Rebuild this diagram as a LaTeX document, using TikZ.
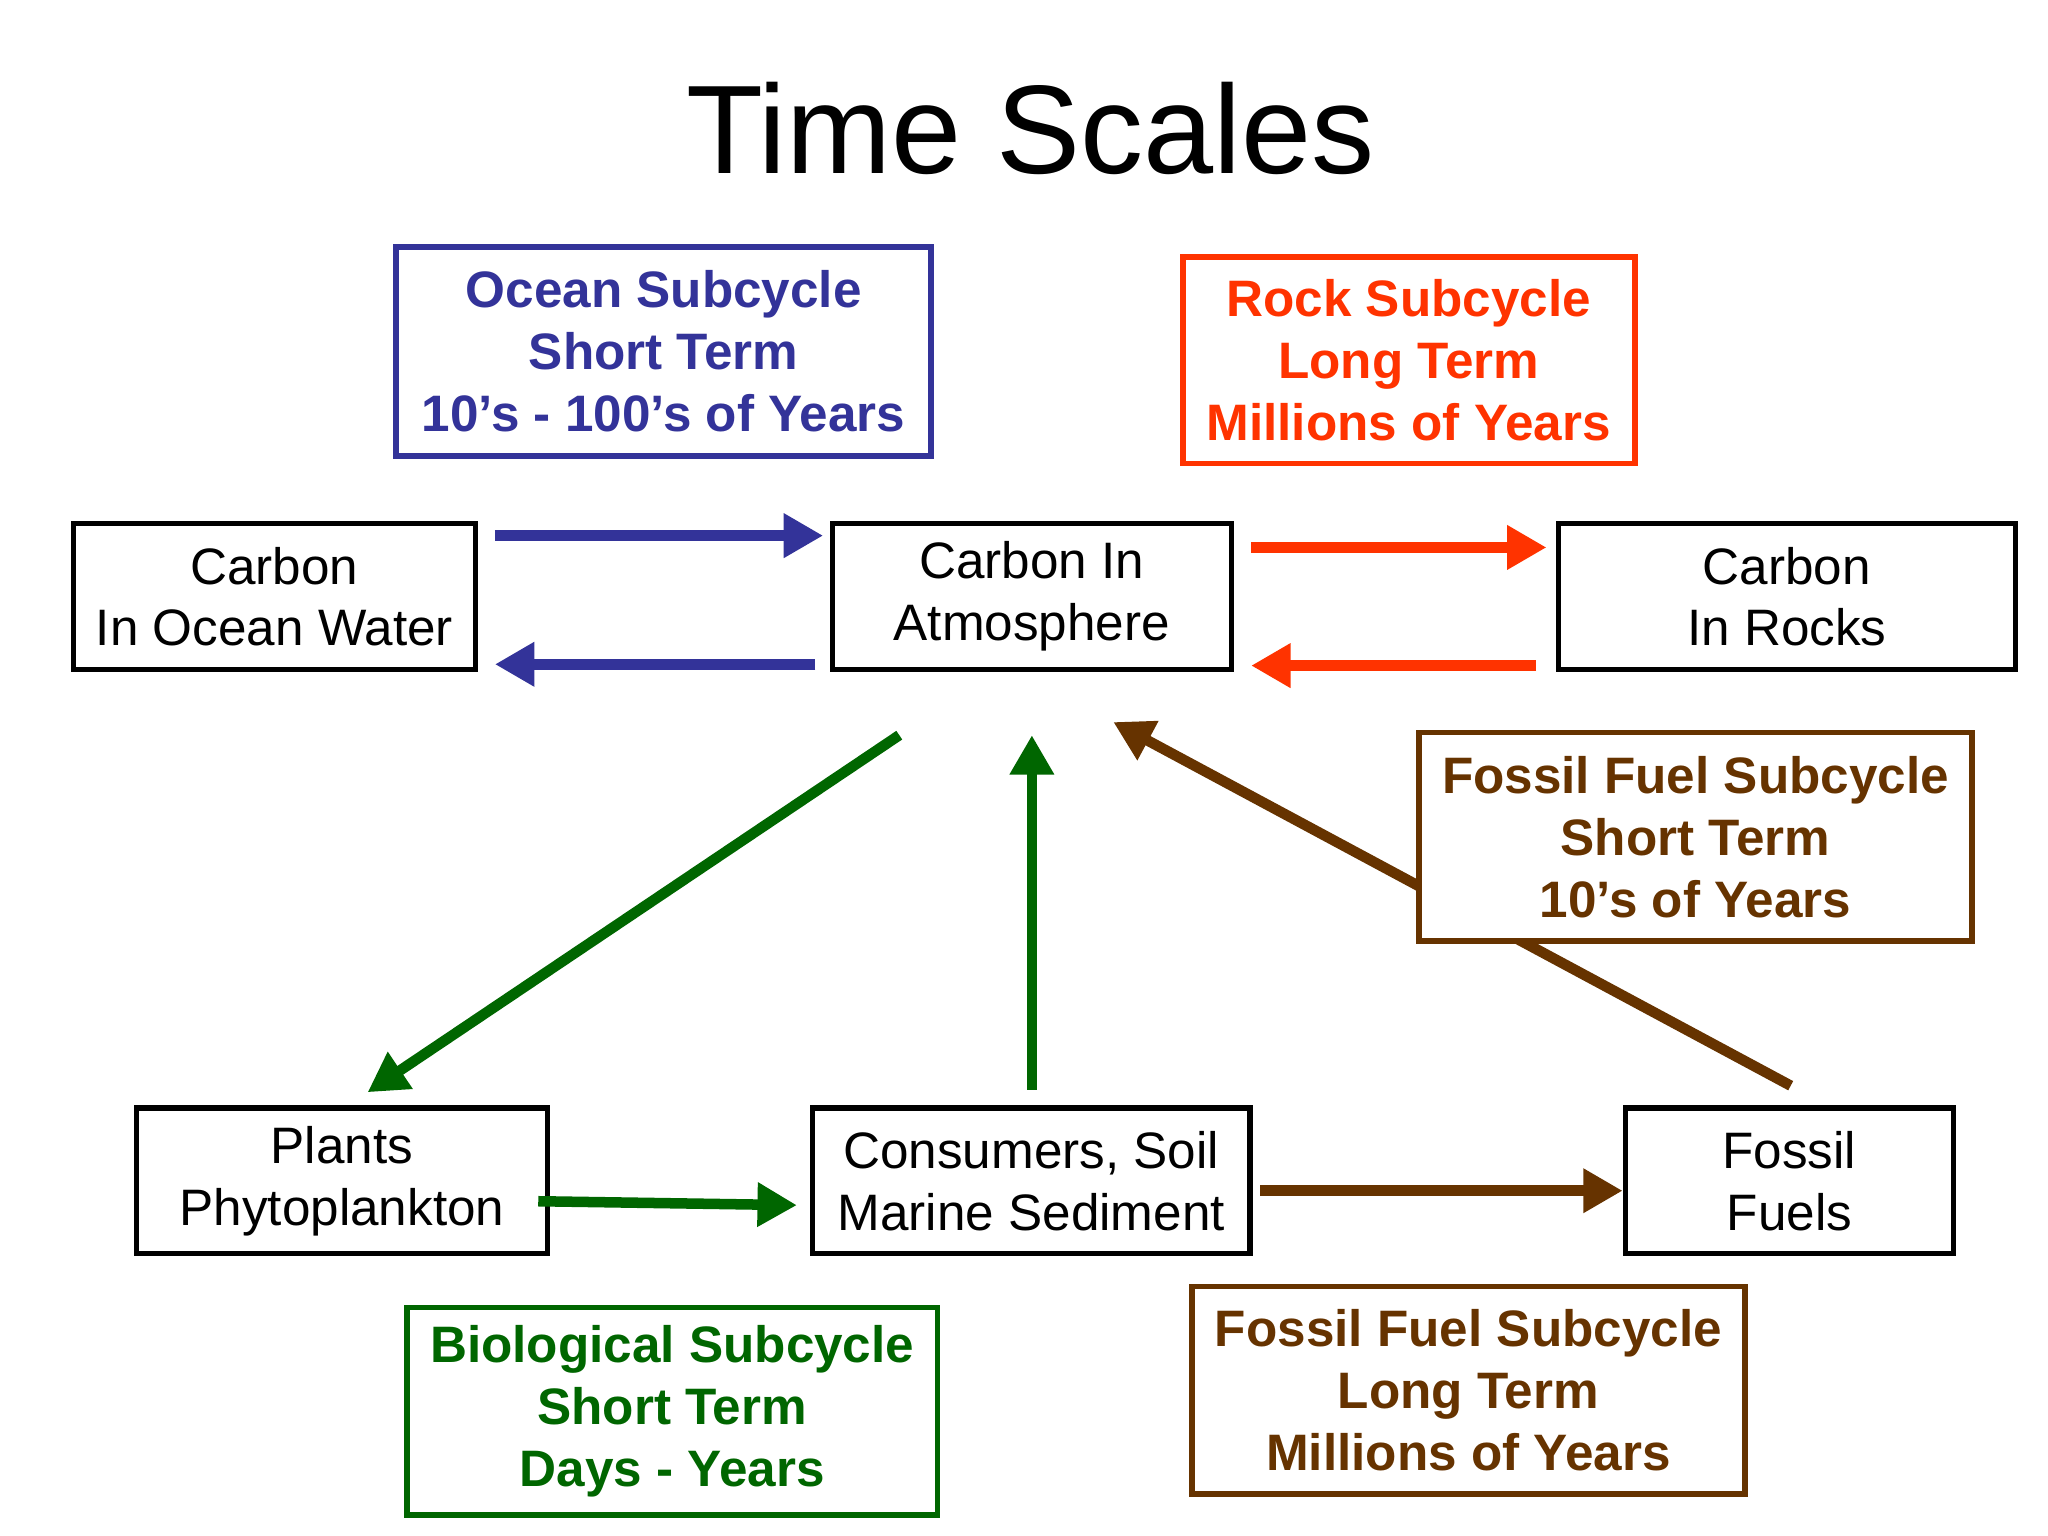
\documentclass[tikz,border=0pt]{standalone}
\usepackage{fontspec}
\setmainfont{Liberation Sans}
\usetikzlibrary{arrows.meta}
\definecolor{oc}{HTML}{333399}
\definecolor{rk}{HTML}{FF3300}
\definecolor{bio}{HTML}{006600}
\definecolor{ff}{HTML}{663300}
\begin{document}
\begin{tikzpicture}[x=0.01cm,y=-0.01cm,
  box/.style={draw,line width=0.4mm,fill=white,inner sep=0pt,align=center,font=\fontsize{11.1pt}{13.4pt}\selectfont},
  cbox/.style={draw=#1,text=#1,line width=0.45mm,fill=white,inner sep=0pt,align=center,font=\fontsize{11.1pt}{13.4pt}\selectfont\bfseries},
  arr/.style={draw=#1,line width=0.8mm,-{Triangle[length=3mm,width=3.2mm]}}]
\useasboundingbox (0,0) rectangle (1560,1170);
\node[font=\fontsize{27.3pt}{30pt}\selectfont] (title) at (785,98) {Time Scales};
\coordinate (ff1) at (1364,827); \coordinate (ff2) at (848,550);
\draw[arr=ff] (ff1) -- (ff2);
\node[cbox=oc,minimum width=4.07cm,minimum height=1.59cm] (ocs) at (505.5,267.5) {Ocean Subcycle\\Short Term\\10’s - 100’s of Years};
\node[cbox=rk,minimum width=3.44cm,minimum height=1.57cm] (rks) at (1073,274.5) {Rock Subcycle\\Long Term\\Millions of Years};
\node[box,minimum width=3.06cm,minimum height=1.11cm] (ow) at (209,454.5) {Carbon\\In Ocean Water};
\node[box,minimum width=3.04cm,minimum height=1.11cm] (atm) at (786,454.5) {Carbon In\\Atmosphere};
\node[box,minimum width=3.48cm,minimum height=1.11cm] (rock) at (1361,454.5) {Carbon\\In Rocks};
\node[cbox=ff,minimum width=4.21cm,minimum height=1.59cm] (ffs) at (1291.5,637.5) {Fossil Fuel Subcycle\\Short Term\\10’s of Years};
\node[box,minimum width=3.13cm,minimum height=1.11cm] (pl) at (260.5,899.5) {Plants\\Phytoplankton};
\node[box,minimum width=3.33cm,minimum height=1.11cm] (cs) at (785.5,899.5) {Consumers, Soil\\Marine Sediment};
\node[box,minimum width=2.5cm,minimum height=1.11cm] (fuel) at (1363,899.5) {Fossil\\Fuels};
\node[cbox=bio,minimum width=4.04cm,minimum height=1.58cm] (bios) at (512,1075) {Biological Subcycle\\Short Term\\Days - Years};
\node[cbox=ff,minimum width=4.21cm,minimum height=1.58cm] (ffl) at (1118.5,1059) {Fossil Fuel Subcycle\\Long Term\\Millions of Years};
\coordinate (b1) at (377,408); \coordinate (b2) at (627,408);
\coordinate (b3) at (621,506); \coordinate (b4) at (377,506);
\coordinate (r1) at (953,417); \coordinate (r2) at (1178,417);
\coordinate (r3) at (1170,507); \coordinate (r4) at (953,507);
\coordinate (g1) at (685,560); \coordinate (g2) at (280,832);
\coordinate (g3) at (786,830); \coordinate (g4) at (786,560);
\coordinate (g5) at (410,915); \coordinate (g6) at (607,918);
\coordinate (f1) at (960,907); \coordinate (f2) at (1236,907);
\draw[arr=oc] (b1) -- (b2);
\draw[arr=oc] (b3) -- (b4);
\draw[arr=rk] (r1) -- (r2);
\draw[arr=rk] (r3) -- (r4);
\draw[arr=bio] (g1) -- (g2);
\draw[arr=bio] (g3) -- (g4);
\draw[arr=bio] (g5) -- (g6);
\draw[arr=ff] (f1) -- (f2);
\end{tikzpicture}
\end{document}
